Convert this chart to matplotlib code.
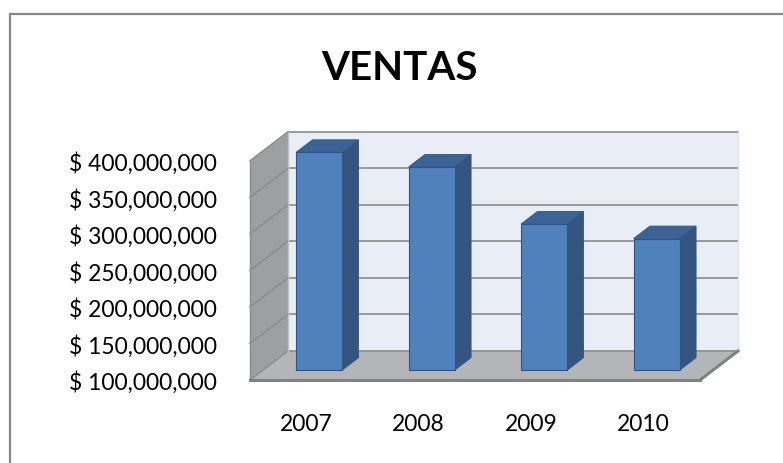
import matplotlib
matplotlib.use("Agg")
import matplotlib.pyplot as plt
from matplotlib.patches import Polygon, Rectangle
from matplotlib.transforms import ScaledTranslation, IdentityTransform

# ---- data ----
years = ["2007", "2008", "2009", "2010"]
ventas = [398e6, 378e6, 300e6, 280e6]
y_ticks = [100e6, 150e6, 200e6, 250e6, 300e6, 350e6, 400e6]
title = "VENTAS"

W, H, DPI = 783, 464, 100
fig = plt.figure(figsize=(W / DPI, H / DPI), dpi=DPI)
fig.patch.set_facecolor("white")

# front plane of the 3D box
ax = fig.add_axes([250 / W, 83 / H, 450 / W, (381 - 161.7) / H])
ax.set_xlim(0, len(years))
ax.set_ylim(y_ticks[0], y_ticks[-1])
for s in ax.spines.values():
    s.set_visible(False)
ax.patch.set_visible(False)

FONT = "Lato"
ax.set_yticks(y_ticks)
ax.set_yticklabels([f"$ {v:,.0f}" for v in y_ticks], fontsize=16.5, family=FONT)
ax.set_xticks([i + 0.5 for i in range(len(years))])
ax.set_xticklabels(years, fontsize=16.5, family=FONT)
ax.tick_params(axis="y", length=0, pad=24)
ax.tick_params(axis="x", length=0, pad=24)

DX, DY = 0.38, 0.29  # full depth offset in inches


def pt(x, y, f):
    tr = ax.transData + ScaledTranslation(DX * f, DY * f, fig.dpi_scale_trans)
    return tr.transform((x, y))


def poly(pts, fc, ec="none", lw=0.0, z=1):
    p = Polygon(pts, closed=True, facecolor=fc, edgecolor=ec, linewidth=lw,
                transform=IdentityTransform(), zorder=z)
    fig.add_artist(p)


def line(p0, p1, c, lw, z=2):
    fig.add_artist(plt.Line2D([p0[0], p1[0]], [p0[1], p1[1]], color=c, lw=lw,
                              transform=IdentityTransform(), zorder=z))


ymin, ymax = y_ticks[0], y_ticks[-1]
nx = len(years)

# back wall
poly([pt(0, ymin, 1), pt(nx, ymin, 1), pt(nx, ymax, 1), pt(0, ymax, 1)],
     "#e9edf6", z=1)
# left wall
poly([pt(0, ymin, 0), pt(0, ymin, 1), pt(0, ymax, 1), pt(0, ymax, 0)],
     "#9d9fa3", z=1)
# floor
poly([pt(0, ymin, 0), pt(nx, ymin, 0), pt(nx, ymin, 1), pt(0, ymin, 1)],
     "#b3b5b9", z=1)

grid_c = "#8a8a8a"
for v in y_ticks:
    line(pt(0, v, 1), pt(nx, v, 1), grid_c, 1.2)
    line(pt(0, v, 0), pt(0, v, 1), grid_c, 1.0)
# wall edges
line(pt(0, ymin, 1), pt(0, ymax, 1), "#bfc2c8", 1.0)
line(pt(0, ymin, 0), pt(0, ymax, 0), "#8a8c90", 1.0)
line(pt(nx, ymin, 1), pt(nx, ymax, 1), "#dfe3ea", 1.0)
# floor front/right edges (thickness)
line(pt(0, ymin, 0), pt(nx, ymin, 0), "#7f8185", 2.2, z=2)
line(pt(nx, ymin, 0), pt(nx, ymin, 1), "#7f8185", 2.2, z=2)

# bars
bw = 0.41
f0, f1 = 0.34, 0.77
for i, v in enumerate(ventas):
    x0 = i + 0.5 - bw / 2
    x1 = x0 + bw
    ec = "#2f5587"
    poly([pt(x1, ymin, f0), pt(x1, ymin, f1), pt(x1, v, f1), pt(x1, v, f0)],
         "#34557f", ec, 0.6, z=3)
    poly([pt(x0, v, f0), pt(x1, v, f0), pt(x1, v, f1), pt(x0, v, f1)],
         "#3b6395", ec, 0.6, z=3)
    poly([pt(x0, ymin, f0), pt(x1, ymin, f0), pt(x1, v, f0), pt(x0, v, f0)],
         "#4f81bd", ec, 0.8, z=4)

# title
fig.text(399 / W, 1 - 80 / H, title, ha="center", va="baseline",
         fontsize=29, fontweight="bold", family=FONT)

# chart border (extends beyond the image on right/bottom)
fig.add_artist(Rectangle((10 / W, -0.2), 1.2, 1.2 - 15 / H, transform=fig.transFigure,
                         fill=False, edgecolor="#878787", linewidth=1.6, zorder=10))

fig.savefig("out.png", dpi=DPI)
